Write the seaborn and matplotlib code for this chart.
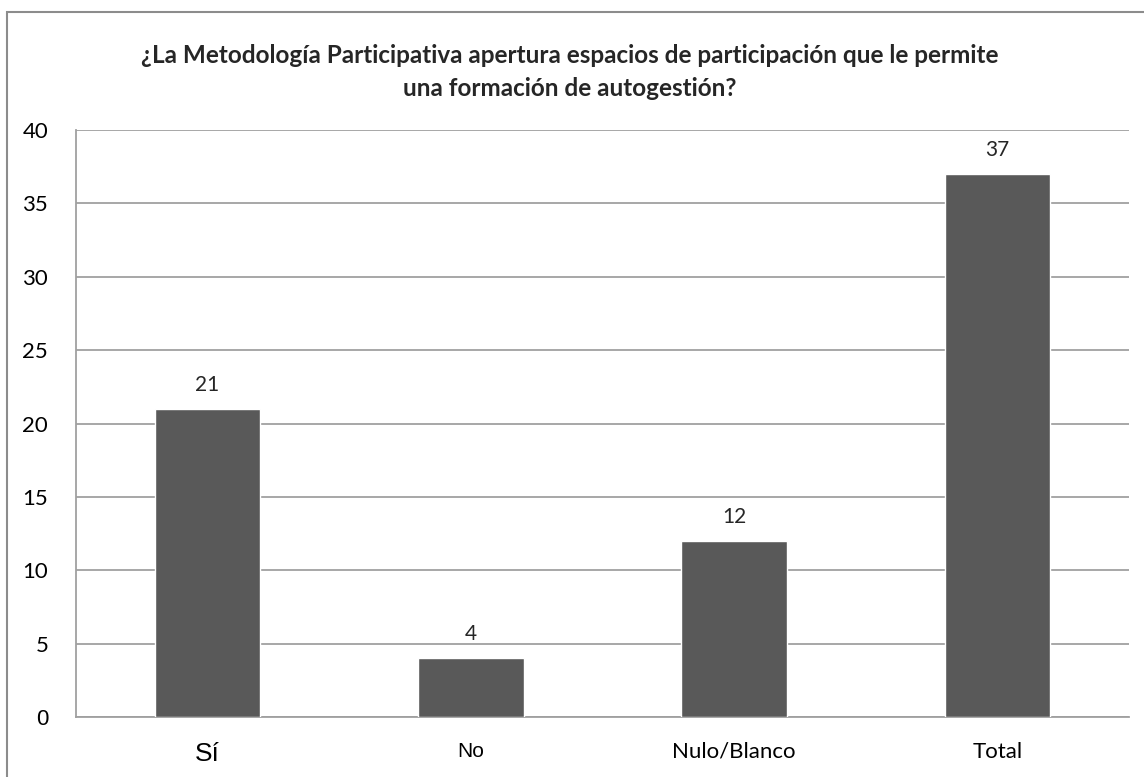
import matplotlib
matplotlib.use("Agg")
import matplotlib.pyplot as plt
import seaborn as sns
import pandas as pd
from matplotlib.patches import Rectangle

categorias = ["Sí", "No", "Nulo/Blanco", "Total"]
valores = [21, 4, 12, 37]
titulo = ("¿La Metodología Participativa apertura espacios de participación que le permite\n"
          "una formación de autogestión?")

df = pd.DataFrame({"Respuesta": categorias, "Cantidad": valores})

sns.set_theme(style="white")
plt.rcParams["font.family"] = ["Lato", "DejaVu Sans"]

fig = plt.figure(figsize=(11.44, 7.77), dpi=100)
ax = fig.add_axes([76 / 1144, 1 - 717 / 777, (1129 - 76) / 1144, (717 - 130) / 777])

sns.barplot(data=df, x="Respuesta", y="Cantidad", color="#595959", saturation=1,
            width=0.4, ax=ax, zorder=3)

ax.set_ylim(0, 40)
ax.set_yticks(range(0, 41, 5))
ax.yaxis.grid(True, color="#a0a0a0", linewidth=1.3, zorder=0)
ax.set_axisbelow(True)
for s in ["top", "right"]:
    ax.spines[s].set_visible(False)
for s in ["left", "bottom"]:
    ax.spines[s].set_color("#a0a0a0")
    ax.spines[s].set_linewidth(1.3)
ax.tick_params(axis="both", length=0, labelsize=16, colors="black")
ax.tick_params(axis="y", pad=20)
ax.tick_params(axis="x", pad=18)
ax.set_xlabel("")
ax.set_ylabel("")

# mixed fonts on the category labels, as in the source
for lbl in ax.get_xticklabels():
    t = lbl.get_text()
    if t == "Sí":
        lbl.set_fontfamily("Liberation Sans")
        lbl.set_fontsize(19)
    elif t == "No":
        lbl.set_fontfamily("Liberation Sans")
        lbl.set_fontsize(15)
ax.get_yticklabels()[0].set_fontfamily("Liberation Sans")

for c in ax.containers:
    ax.bar_label(c, labels=[str(v) for v in valores], padding=10, fontsize=15)

fig.text(0.498, 1 - 72 / 777, titulo, ha="center", va="center", fontsize=17.5,
         fontweight="bold", linespacing=1.5)

fig.patches.append(Rectangle((7 / 1144, -0.1), 1.2, 1.1 - 12 / 777,
                             transform=fig.transFigure, fill=False,
                             edgecolor="#8c8c8c", linewidth=1.5))

fig.savefig("out.png", dpi=100)
